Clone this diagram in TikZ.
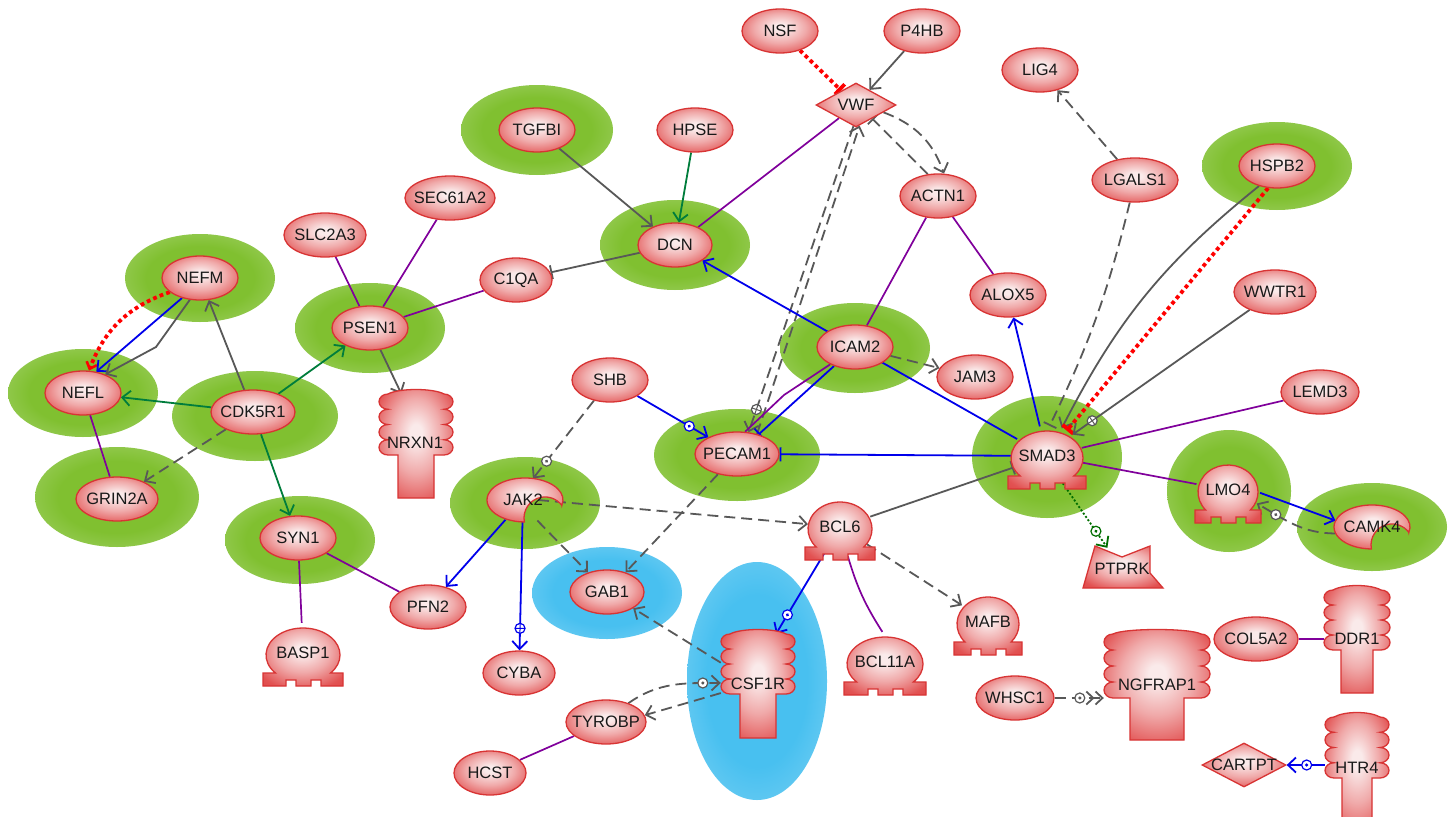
\documentclass[tikz,border=0pt]{standalone}
\usepackage{fontspec}
\setmainfont{Liberation Sans}
\usetikzlibrary{shapes.geometric,arrows.meta,decorations.markings}
\definecolor{gc}{RGB}{250,234,234}
\definecolor{gp}{RGB}{240,170,170}
\definecolor{gm}{RGB}{226,82,82}
\definecolor{ge}{RGB}{216,52,52}
\definecolor{hc}{RGB}{128,192,48}
\definecolor{he}{RGB}{195,226,160}
\definecolor{bc}{RGB}{72,192,240}
\definecolor{be}{RGB}{168,224,247}
\definecolor{txtc}{RGB}{25,25,25}
\definecolor{cgray}{RGB}{88,88,88}
\definecolor{cgreen}{RGB}{0,125,60}
\definecolor{cblue}{RGB}{0,0,235}
\definecolor{cpurp}{RGB}{128,0,155}
\definecolor{cred}{RGB}{255,0,0}
\definecolor{cdgreen}{RGB}{0,110,0}
\pgfdeclareradialshading{genesh}{\pgfpoint{0bp}{5bp}}{color(0bp)=(gc); color(4bp)=(gc); color(17bp)=(gp); color(31bp)=(gm); color(50bp)=(ge)}
\pgfdeclareradialshading{halosh}{\pgfpointorigin}{color(0bp)=(hc); color(18bp)=(hc); color(50bp)=(he)}
\pgfdeclareradialshading{bluesh}{\pgfpointorigin}{color(0bp)=(bc); color(18bp)=(bc); color(50bp)=(be)}
\pgfdeclarelayer{halo}
\pgfdeclarelayer{edges}
\pgfsetlayers{halo,edges,main}
\newcommand\glab[1]{\makebox[0pt]{#1}}
\newcommand\gfont{\fontsize{16.5}{18}\selectfont}
\tikzset{
 gshade/.style={shade, shading=genesh, draw=ge, line width=1.3pt},
 gene/.style={ellipse, minimum width=#1, minimum height=44pt, inner sep=0pt, gshade, text=txtc, font=\gfont},
 gene/.default=76pt,
 hid/.style={inner sep=0pt, text=txtc, font=\gfont},
 dia/.style={diamond, minimum width=#1, minimum height=44pt, inner sep=0pt, gshade, text=txtc, font=\gfont},
 hl/.style={shade, shading=halosh},
 bhl/.style={shade, shading=bluesh},
 ln/.style={line width=1.8pt},
 ar/.style={-{Straight Barb[length=8pt,width=15pt]}},
 tb/.style={-{Bar[width=14pt]}},
 dsh/.style={dash pattern=on 11pt off 6pt},
 EG/.style={ln, color=cgray},
 EN/.style={ln, color=cgreen},
 EB/.style={ln, color=cblue},
 EP/.style={line width=1.7pt, color=cpurp},
 ER/.style={line width=3.8pt, color=cred, dash pattern=on 3.8pt off 3.2pt},
 mdot/.style={postaction={decorate,decoration={markings,mark=at position #1 with {\node[circle,draw,solid,fill=white,inner sep=0pt,minimum size=10pt,line width=1.2pt]{}; \fill (0pt,0pt) circle (1.7pt);}}}},
 mplus/.style={postaction={decorate,decoration={markings,mark=at position #1 with {\node[circle,draw,solid,fill=white,inner sep=0pt,minimum size=10pt,line width=1.2pt]{}; \draw[solid,-,line width=1pt] (-5pt,0pt) -- (5pt,0pt) (0pt,-5pt) -- (0pt,5pt);}}}},
}
% transcription-regulator shape: cx, cy (label centre), dome half width
\newcommand\TFshape[3]{%
 \pgfmathsetmacro\tfa{#1-#3-3}\pgfmathsetmacro\tfb{#1+#3+3}%
 \pgfmathsetmacro\tfl{#1-0.745*#3}%
 \pgfmathsetmacro\tfyb{#2+20}\pgfmathsetmacro\tfybb{#2+33}\pgfmathsetmacro\tfyn{#2+27}%
 \pgfmathsetmacro\tfp{#1+18}\pgfmathsetmacro\tfq{#1+8}\pgfmathsetmacro\tfr{#1-7}\pgfmathsetmacro\tfs{#1-17}%
 \path[gshade] (\tfa,\tfybb) -- (\tfa,\tfyb) -- (\tfl,\tfyb) arc[start angle=221.8,end angle=-41.8,x radius=#3pt,y radius=27pt] -- (\tfb,\tfyb) -- (\tfb,\tfybb) -- (\tfp,\tfybb) -- (\tfp,\tfyn) -- (\tfq,\tfyn) -- (\tfq,\tfybb) -- (\tfr,\tfybb) -- (\tfr,\tfyn) -- (\tfs,\tfyn) -- (\tfs,\tfybb) -- cycle;}
% receptor shape: cx, ytop, head half width, head bottom, stem half width, stem bottom
\newcommand\RecShape[6]{%
 \pgfmathsetmacro\rca{#1-#5}\pgfmathsetmacro\rcb{#1+#5}%
 \pgfmathsetmacro\rcl{#1-#3+9}\pgfmathsetmacro\rcr{#1+#3-9}%
 \pgfmathsetmacro\rcy{(#4-#2)/8}%
 \pgfmathsetmacro\rcu{#1-#3+20}\pgfmathsetmacro\rcv{#1+#3-20}\pgfmathsetmacro\rct{#2-6}%
 \path[gshade] (\rca,#6) -- (\rca,#4) -- (\rcl,#4)
  arc[start angle=270,end angle=90,x radius=9pt,y radius=\rcy pt]
  arc[start angle=270,end angle=90,x radius=9pt,y radius=\rcy pt]
  arc[start angle=270,end angle=90,x radius=9pt,y radius=\rcy pt]
  arc[start angle=270,end angle=90,x radius=9pt,y radius=\rcy pt]
  .. controls (\rcu,\rct) and (\rcv,\rct) .. (\rcr,#2)
  arc[start angle=90,end angle=-90,x radius=9pt,y radius=\rcy pt]
  arc[start angle=90,end angle=-90,x radius=9pt,y radius=\rcy pt]
  arc[start angle=90,end angle=-90,x radius=9pt,y radius=\rcy pt]
  arc[start angle=90,end angle=-90,x radius=9pt,y radius=\rcy pt]
  -- (\rcb,#4) -- (\rcb,#6) -- cycle;}
% kinase shape (ellipse with a bite at lower right)
\newcommand\KinShape[2]{%
 \path[gshade] ({#1+36.8},{#2+5.4}) arc[start angle=-14.3,end angle=269.1,x radius=38pt,y radius=22pt] arc[start angle=191,end angle=36.9,radius=21pt] -- cycle;}
\begin{document}
\begin{tikzpicture}[x=1pt,y=-1pt]
\useasboundingbox (0,0) rectangle (1455,816);
\begin{pgfonlayer}{halo}
\fill[white] (0,0) rectangle (1455,816);
\shade[hl] (537,130) ellipse (76pt and 45pt);
\shade[hl] (675,245) ellipse (75pt and 45pt);
\shade[hl] (1277,166) ellipse (75pt and 44pt);
\shade[hl] (200,278) ellipse (75pt and 44pt);
\shade[hl] (370,328) ellipse (75pt and 45pt);
\shade[hl] (855,348) ellipse (75pt and 45pt);
\shade[hl] (83,393) ellipse (75pt and 44pt);
\shade[hl] (255,416) ellipse (83pt and 45pt);
\shade[hl] (117,497) ellipse (82pt and 50pt);
\shade[hl] (300,540) ellipse (75pt and 44pt);
\shade[hl] (525,503) ellipse (75pt and 46pt);
\shade[hl] (737,455) ellipse (83pt and 46pt);
\shade[hl] (1047,457) ellipse (75pt and 61pt);
\shade[hl] (1229,491) ellipse (62pt and 61pt);
\shade[hl] (1372,527) ellipse (75pt and 44pt);
\shade[bhl] (607,593) ellipse (75pt and 46pt);
\shade[bhl] (757,681) ellipse (70pt and 119pt);
\end{pgfonlayer}
% ---------- special shapes ----------
\TFshape{1047}{456}{36}
\TFshape{1228}{490}{30}
\TFshape{840}{527}{32}
\TFshape{988}{622}{31}
\TFshape{303}{653}{37}
\TFshape{885}{662}{38}
\RecShape{416}{394}{37}{455}{18}{498}
\RecShape{758}{634}{37}{694}{18}{738}
\RecShape{1357}{590}{33}{650}{16}{693}
\RecShape{1357}{717}{32}{778}{15}{830}
\RecShape{1157}{634}{53}{698}{27}{740}
\KinShape{525}{500}
\KinShape{1372}{527}
\path[gshade] (1083,588) -- (1095,546) -- (1122,557) -- (1150,546) -- (1150,573) -- (1163,588) -- cycle;
% ---------- nodes ----------
\node[gene] (nsf) at (780,31) {\glab{NSF}};
\node[gene] (p4hb) at (922,31) {\glab{P4HB}};
\node[dia=80pt] (vwf) at (856,105) {\glab{VWF}};
\node[gene] (lig4) at (1040,70) {\glab{LIG4}};
\node[gene] (tgfbi) at (537,130) {\glab{TGFBI}};
\node[gene] (hpse) at (695,130) {\glab{HPSE}};
\node[gene=86pt] (lgals1) at (1135,180) {\glab{LGALS1}};
\node[gene] (hspb2) at (1277,166) {\glab{HSPB2}};
\node[gene=90pt] (sec61a2) at (450,198) {\glab{SEC61A2}};
\node[gene=82pt] (slc2a3) at (325,235) {\glab{SLC2A3}};
\node[gene] (actn1) at (938,196) {\glab{ACTN1}};
\node[gene=74pt] (dcn) at (675,245) {\glab{DCN}};
\node[gene=72pt] (c1qa) at (516,280) {\glab{C1QA}};
\node[gene] (nefm) at (200,278) {\glab{NEFM}};
\node[gene] (alox5) at (1008,295) {\glab{ALOX5}};
\node[gene=82pt] (wwtr1) at (1275,292) {\glab{WWTR1}};
\node[gene] (psen1) at (370,328) {\glab{PSEN1}};
\node[gene] (icam2) at (855,347) {\glab{ICAM2}};
\node[gene] (jam3) at (975,377) {\glab{JAM3}};
\node[gene] (shb) at (610,380) {\glab{SHB}};
\node[gene=78pt] (lemd3) at (1320,392) {\glab{LEMD3}};
\node[gene] (nefl) at (83,393) {\glab{NEFL}};
\node[gene=84pt] (cdk5r1) at (253,412) {\glab{CDK5R1}};
\node[gene=84pt] (pecam1) at (737,454) {\glab{PECAM1}};
\node[gene=82pt] (grin2a) at (117,499) {\glab{GRIN2A}};
\node[gene] (syn1) at (298,538) {\glab{SYN1}};
\node[gene=74pt] (gab1) at (607,592) {\glab{GAB1}};
\node[gene] (pfn2) at (428,607) {\glab{PFN2}};
\node[gene=84pt] (col5a2) at (1256,639) {\glab{COL5A2}};
\node[gene=72pt] (cyba) at (519,673) {\glab{CYBA}};
\node[gene=78pt] (whsc1) at (1015,698) {\glab{WHSC1}};
\node[gene=80pt] (tyrobp) at (606,722) {\glab{TYROBP}};
\node[gene=72pt] (hcst) at (490,773) {\glab{HCST}};
\node[dia=84pt] (cartpt) at (1244,765) {\glab{CARTPT}};
% labels of special shapes
\node[hid, ellipse, minimum width=72pt, minimum height=60pt] (smad3) at (1047,456) {\glab{SMAD3}};
\node[hid, ellipse, minimum width=64pt, minimum height=60pt] (lmo4) at (1228,490) {\glab{LMO4}};
\node[hid, ellipse, minimum width=64pt, minimum height=60pt] (bcl6) at (840,527) {\glab{BCL6}};
\node[hid, ellipse, minimum width=62pt, minimum height=60pt] (mafb) at (988,622) {\glab{MAFB}};
\node[hid, ellipse, minimum width=74pt, minimum height=60pt] (basp1) at (303,653) {\glab{BASP1}};
\node[hid, ellipse, minimum width=76pt, minimum height=60pt] (bcl11a) at (885,662) {\glab{BCL11A}};
\node[hid, ellipse, minimum width=76pt, minimum height=44pt] (jak2) at (523,500) {\glab{JAK2}};
\node[hid, ellipse, minimum width=76pt, minimum height=44pt] (camk4) at (1372,527) {\glab{CAMK4}};
\node[hid, minimum width=80pt, minimum height=42pt] (ptprk) at (1122,569) {\glab{PTPRK}};
\node[hid, minimum width=74pt, minimum height=61pt] (nrxn1) at (416,424.5) {};
\node[hid] (nrxn1t) at (415,443) {\glab{NRXN1}};
\node[hid, minimum width=74pt, minimum height=60pt] (csf1r) at (758,664) {};
\node[hid] (csf1rt) at (758,684) {\glab{CSF1R}};
\node[hid, minimum width=66pt, minimum height=60pt] (ddr1) at (1357,620) {};
\node[hid] (ddr1t) at (1357,639) {\glab{DDR1}};
\node[hid, minimum width=64pt, minimum height=61pt] (htr4) at (1357,747) {};
\node[hid] (htr4t) at (1357,768) {\glab{HTR4}};
\node[hid, minimum width=106pt, minimum height=64pt] (ngfrap1) at (1157,666) {};
\node[hid] (ngfrap1t) at (1157,685) {\glab{NGFRAP1}};
\coordinate (nb) at (156,347);
\coordinate (ib) at (784,395);
% ---------- edges ----------
\begin{pgfonlayer}{edges}
\draw[ER, tb] (nsf) -- (vwf);
\draw[EG, ar] (p4hb) -- (vwf);
\draw[EP] (vwf) -- (dcn);
\draw[EG, ar] (tgfbi) -- (dcn);
\draw[EN, ar] (hpse) -- (dcn);
\draw[EG, tb] (dcn) -- (c1qa);
\draw[EP] (c1qa) -- (psen1);
\draw[EP] (sec61a2) -- (psen1);
\draw[EP] (slc2a3) -- (psen1);
\draw[EG, ar] (psen1) -- (nrxn1);
\draw[EN, ar] (cdk5r1) -- (psen1);
\draw[EG, ar] (cdk5r1) -- (nefm);
\draw[EN, ar] (cdk5r1) -- (nefl);
\draw[EN, ar] (cdk5r1) -- (syn1);
\draw[EG, dsh, ar] (cdk5r1) -- (grin2a);
\draw[EP] (nefl) -- (grin2a);
\draw[ER, -{Straight Barb[length=6pt,width=11pt,line width=2.6pt]}] (nefm.205) to[bend right=25] (nefl.75);
\draw[EB, ar] (nefm.228) -- (nefl.58);
\draw[EG, ar] (nefm.245) -- (nb) -- (nefl.40);
\draw[EG, dsh, tb] (actn1.115) -- (vwf.-40);
\draw[EG, dsh, ar] (vwf.-15) to[bend left=25] (actn1.75);
\draw[EG, dsh, ar, mplus=-24pt] (vwf.-97) -- (pecam1.62);
\draw[EG, dsh, ar] (pecam1.45) -- (vwf.-80);
\draw[EP] (actn1) -- (icam2);
\draw[EP] (actn1) -- (alox5);
\draw[EG, dsh, ar] (lgals1) -- (lig4);
\draw[EG, dsh, tb] (lgals1) to[bend left=6] (smad3.85);
\draw[EG, ar] (hspb2.228) to[bend right=12] (smad3.62);
\draw[ER, tb] (hspb2.248) -- (smad3.52);
\draw[EG, ar, mplus=-24pt] (wwtr1) -- (smad3.40);
\draw[EP] (lemd3) -- (smad3);
\draw[EP] (smad3) -- (lmo4);
\draw[EB, ar] (smad3) -- (alox5);
\draw[EB, ar] (smad3) -- (dcn);
\draw[EB, tb] (smad3) -- (pecam1);
\draw[EB, tb] (icam2) -- (pecam1);
\draw[EP] (icam2.215) -- (ib) -- (pecam1.70);
\draw[EG, dsh, ar] (icam2) -- (jam3);
\draw[EB, ar, mdot=-22pt] (shb) -- (pecam1);
\draw[EG, dsh, ar, mdot=-22pt] (shb) -- (jak2.65);
\draw[EG, dsh, ar] (pecam1) -- (gab1);
\draw[EG, dsh, ar] (jak2.-55) -- (gab1);
\draw[EG, dsh, ar] ([xshift=15pt]jak2.center) -- (bcl6);
\draw[EB, ar] (jak2) -- (pfn2);
\draw[EB, ar, mplus=-22pt] (jak2) -- (cyba);
\draw[EG, tb] (bcl6) -- (smad3);
\draw[EG, dsh, ar] (bcl6) -- (mafb);
\draw[EP] (bcl6.-75) to[bend right=8] (bcl11a.95);
\draw[EB, ar, mdot=-22pt] (bcl6) -- (csf1r);
\draw[EG, dsh, ar] (csf1r.178) -- (gab1);
\draw[EG, dsh, ar, mdot=-18pt] (tyrobp.40) to[out=35,in=180] (csf1r.207);
\draw[EG, dsh, ar] (csf1r.218) -- (tyrobp.10);
\draw[EP] (tyrobp) -- (hcst);
\draw[EP] (syn1) -- (basp1);
\draw[EP] (syn1) -- (pfn2);
\draw[cdgreen, line width=1.8pt, dash pattern=on 2pt off 2pt, ar, mdot=-20pt] (smad3.-60) -- (ptprk);
\draw[EB, ar] (lmo4.-5) -- (camk4.170);
\draw[EG, dsh, ar, mdot=-22pt] (camk4.190) to[out=180,in=-30] (lmo4.-25);
\draw[EP] (col5a2.east) -- (ddr1.west |- col5a2.east);
\draw[EG, dsh, -{Straight Barb[length=7pt,width=13pt] Straight Barb[length=7pt,width=13pt]}, mdot=-24pt] (whsc1.east) -- (ngfrap1.west |- whsc1.east);
\draw[EB, ar, mdot=-20pt] (htr4.west |- cartpt.east) -- (cartpt.east);
\end{pgfonlayer}
\end{tikzpicture}
\end{document}
